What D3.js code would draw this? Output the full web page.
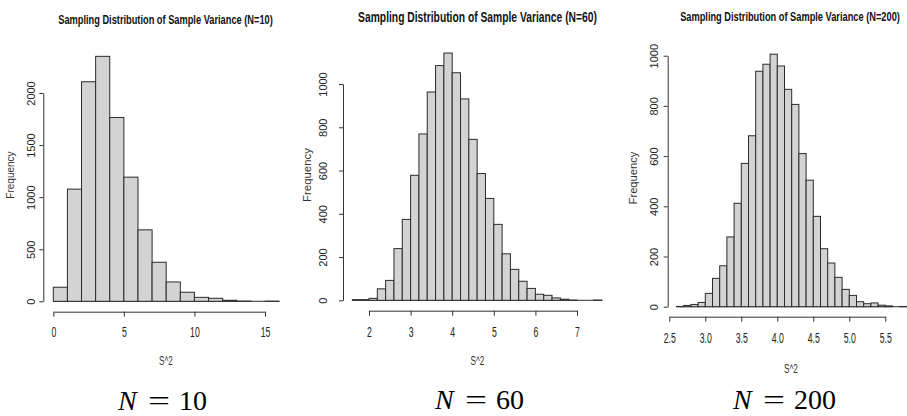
<!DOCTYPE html>
<html><head><meta charset="utf-8">
<script src="https://cdn.jsdelivr.net/npm/d3@7"></script>
<style>body{margin:0;background:#fff}svg{display:block}</style>
</head><body>
<svg id="chart" width="907" height="416"></svg>
<script>
// ---------- DATA ----------
const titles = ["Sampling Distribution of Sample Variance (N=10)",
                "Sampling Distribution of Sample Variance (N=60)",
                "Sampling Distribution of Sample Variance (N=200)"];
const xLabel = "S^2";
const yLabel = "Frequency";
const nLabels = ["10", "60", "200"];

// N = 10 : bin width 1
const binStart10 = [0,1,2,3,4,5,6,7,8,9,10,11,12,13,14,15];
const binWidth10 = 1;
const counts10 = [135,1077,2108,2352,1765,1192,686,375,186,87,38,29,10,2,0,1];
const xTicks10 = [0,5,10,15];
const xTickLabels10 = ["0","5","10","15"];
const yTicks10 = [0,500,1000,1500,2000];

// N = 60 : bin width 0.2
const binStart60 = [1.6,1.8,2.0,2.2,2.4,2.6,2.8,3.0,3.2,3.4,3.6,3.8,4.0,4.2,4.4,4.6,4.8,5.0,5.2,5.4,5.6,5.8,6.0,6.2,6.4,6.6,6.8,7.0,7.2,7.4];
const binWidth60 = 0.2;
const counts60 = [3,3,9,53,92,239,374,578,769,963,1085,1143,1052,931,744,586,471,351,215,143,88,55,28,23,11,5,1,0,0,1];
const xTicks60 = [2,3,4,5,6,7];
const xTickLabels60 = ["2","3","4","5","6","7"];
const yTicks60 = [0,200,400,600,800,1000];

// N = 200 : bin width 0.1
const binStart200 = [2.6,2.7,2.8,2.9,3.0,3.1,3.2,3.3,3.4,3.5,3.6,3.7,3.8,3.9,4.0,4.1,4.2,4.3,4.4,4.5,4.6,4.7,4.8,4.9,5.0,5.1,5.2,5.3,5.4,5.5,5.6,5.7];
const binWidth200 = 0.1;
const counts200 = [1,5,9,17,53,113,163,278,412,571,681,938,966,1006,959,866,806,610,504,360,231,174,117,69,45,20,12,15,6,3,0,1];
const xTicks200 = [2.5,3.0,3.5,4.0,4.5,5.0,5.5];
const xTickLabels200 = ["2.5","3.0","3.5","4.0","4.5","5.0","5.5"];
const yTicks200 = [0,200,400,600,800,1000];

// ---------- LAYOUT ----------
const panels = [
  {starts:binStart10, w:binWidth10, counts:counts10, xt:xTicks10, xtl:xTickLabels10, yt:yTicks10,
   xr:[53.3,265], yr:[301.3,93], axY:311.7, xtlY:337, axX:43.3, ytlX:35.3,
   freqX:14, freqY:175, freqSize:10, title:{x:165.5,y:24,size:13,len:215},
   s2:{x:166,y:365}, N:{x:118,y:410}},
  {starts:binStart60, w:binWidth60, counts:counts60, xt:xTicks60, xtl:xTickLabels60, yt:yTicks60,
   xr:[369,577], yr:[300.3,84], axY:310.7, xtlY:336.7, axX:343, ytlX:326.5,
   freqX:310.5, freqY:175, freqSize:11.4, title:{x:477.5,y:21.5,size:14,len:239},
   s2:{x:477.5,y:365}, N:{x:435,y:409}},
  {starts:binStart200, w:binWidth200, counts:counts200, xt:xTicks200, xtl:xTickLabels200, yt:yTicks200,
   xr:[669.3,885.3], yr:[306.7,55.7], axY:316.7, xtlY:343, axX:667.7, ytlX:658,
   freqX:637, freqY:178, freqSize:11.2, title:{x:790,y:20.7,size:12.8,len:220},
   s2:{x:791,y:372.5}, N:{x:733,y:409}}
];

const svg = d3.select("#chart");
const sans = "'Liberation Sans', Arial, Helvetica, sans-serif";

panels.forEach((p, i) => {
  const x = d3.scaleLinear().domain([p.xt[0], p.xt[p.xt.length-1]]).range(p.xr);
  const y = d3.scaleLinear().domain([p.yt[0], p.yt[p.yt.length-1]]).range(p.yr);
  const g = svg.append("g");

  // baseline under all bins (zero-count bins appear as a flat line, as in R)
  const lastStart = p.starts[p.starts.length-1];
  g.append("line")
    .attr("x1", x(p.starts[0])).attr("x2", x(lastStart + p.w))
    .attr("y1", y(0)).attr("y2", y(0))
    .attr("stroke", "#2b2b2b").attr("stroke-width", 1);

  // bars
  g.selectAll("rect.bar").data(p.starts.map((s, k) => ({s, c: p.counts[k]})).filter(d => d.c > 0))
    .enter().append("rect").attr("class","bar")
    .attr("x", d => x(d.s))
    .attr("width", d => x(d.s + p.w) - x(d.s))
    .attr("y", d => y(d.c))
    .attr("height", d => y(0) - y(d.c))
    .attr("fill", "#d3d3d3")
    .attr("stroke", "#2b2b2b")
    .attr("stroke-width", 1);

  // x axis
  const xa = g.append("g").attr("transform", `translate(0,${p.axY})`)
    .call(d3.axisBottom(x).tickValues(p.xt).tickSize(5).tickSizeOuter(0)
      .tickFormat((d, k) => p.xtl[k]));
  xa.select(".domain").attr("stroke", "#333");
  xa.selectAll(".tick line").attr("stroke", "#333");
  xa.selectAll(".tick text")
    .attr("y", 0).attr("dy", 0)
    .attr("transform", `translate(0,${p.xtlY - p.axY}) scale(0.62,1)`)
    .attr("font-family", sans).attr("font-size", 14).attr("fill", "#222");

  // y axis
  const ya = g.append("g").attr("transform", `translate(${p.axX},0)`)
    .call(d3.axisLeft(y).tickValues(p.yt).tickSize(4).tickSizeOuter(0).tickFormat(d3.format("d")));
  ya.select(".domain").attr("stroke", "#333");
  ya.selectAll(".tick line").attr("stroke", "#333");
  ya.selectAll(".tick text")
    .attr("x", 0).attr("dy", 0)
    .attr("transform", `translate(${p.ytlX - p.axX},0) rotate(-90)`)
    .attr("text-anchor", "middle")
    .attr("font-family", sans).attr("font-size", 11).attr("fill", "#222");

  // title: condensed bold; fit the natural width to the target, keep the glyph height
  const tt = svg.append("text").text(titles[i])
    .attr("x", 0).attr("y", 0)
    .attr("text-anchor", "middle")
    .attr("font-family", "'Liberation Sans Narrow', 'Liberation Sans', Arial, sans-serif")
    .attr("font-weight", "bold").attr("font-size", p.title.size)
    .attr("fill", "#111");
  const natural = tt.node().getComputedTextLength();
  const f = p.title.len / natural;
  tt.attr("font-size", p.title.size * f)
    .attr("transform", `translate(${p.title.x},${p.title.y}) scale(1,${1 / f})`);

  // y label
  svg.append("text").text(yLabel)
    .attr("transform", `translate(${p.freqX},${p.freqY}) rotate(-90)`)
    .attr("text-anchor", "middle")
    .attr("font-family", sans).attr("font-size", p.freqSize).attr("fill", "#333");

  // x label
  svg.append("text").text(xLabel)
    .attr("transform", `translate(${p.s2.x},${p.s2.y}) scale(0.68,1)`)
    .attr("text-anchor", "middle")
    .attr("font-family", sans).attr("font-size", 12).attr("fill", "#333");

  // N = ... label
  const t = svg.append("text")
    .attr("y", p.N.y)
    .attr("font-family", "'Liberation Serif', 'DejaVu Serif', serif")
    .attr("font-size", 28).attr("fill", "#000");
  t.append("tspan").attr("x", p.N.x).attr("font-style", "italic").text("N");
  t.append("tspan").attr("x", p.N.x + 30).attr("textLength", 22).attr("lengthAdjust","spacingAndGlyphs").text("=");
  t.append("tspan").attr("x", p.N.x + 61).text(nLabels[i]);
});
</script>
</body></html>
